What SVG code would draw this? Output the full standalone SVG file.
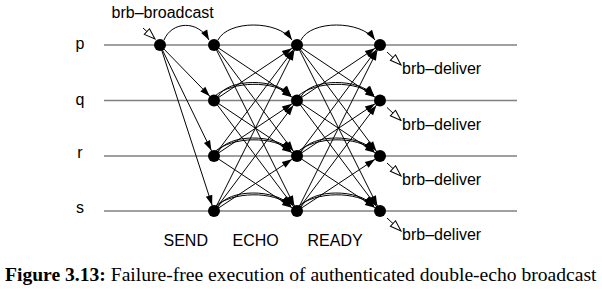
<svg xmlns="http://www.w3.org/2000/svg" width="602" height="297" viewBox="0 0 602 297">
<style>
.proc{stroke:#808080;stroke-width:1.5;fill:none}
.msg{stroke:#000;stroke-width:1;fill:none}
.msg-s{marker-end:url(#ah)}
.msg-c{marker-end:url(#ahc)}
.ev{stroke:#000;stroke-width:1;fill:none;marker-end:url(#oh)}
.dot{fill:#000}
.lbl{font-family:"Liberation Sans",Arial,sans-serif;font-size:16px;fill:#000}
.cap{font-family:"Liberation Serif","Times New Roman",serif;font-size:19.6px;fill:#000}
</style>
<defs>
<marker id="ah" viewBox="-1 -5 18 10" markerWidth="18" markerHeight="10" refX="16" refY="0" orient="auto" markerUnits="userSpaceOnUse"><path d="M0,-3.4 L10,0 L0,3.4 z" fill="#000"/></marker>
<marker id="ahc" viewBox="-1 -5 12 10" markerWidth="12" markerHeight="10" refX="10" refY="0" orient="auto" markerUnits="userSpaceOnUse"><path d="M0,-3.4 L10,0 L0,3.4 z" fill="#000"/></marker>
<marker id="oh" viewBox="-1 -5 13 10" markerWidth="13" markerHeight="10" refX="11" refY="0" orient="auto" markerUnits="userSpaceOnUse"><path d="M0,-3.8 L11,0 L0,3.8 z" fill="#fff" stroke="#000" stroke-width="1"/></marker>
</defs>

<g id="processes">
<line class="proc" x1="104" y1="45" x2="517" y2="45"/>
<line class="proc" x1="104" y1="100.5" x2="517" y2="100.5"/>
<line class="proc" x1="104" y1="156" x2="517" y2="156"/>
<line class="proc" x1="104" y1="211" x2="517" y2="211"/>
<text class="lbl" x="80" y="48.5" text-anchor="middle">p</text>
<text class="lbl" x="80" y="105" text-anchor="middle">q</text>
<text class="lbl" x="80" y="157.5" text-anchor="middle">r</text>
<text class="lbl" x="80" y="212.5" text-anchor="middle">s</text>
</g>

<g id="connectors">
<!-- SEND -->
<path class="msg msg-c" d="M164,40 C172,21 198,20 209,40"/>
<path class="msg msg-s" d="M160,45 L214,100.5"/>
<path class="msg msg-s" d="M160,45 L214,156"/>
<path class="msg msg-s" d="M160,45 L214,211"/>
<!-- ECHO to READY -->
<path class="msg msg-c" d="M218,40 C228,20 278,20 292,40"/>
<path class="msg msg-s" d="M214,45 L297,100.5"/>
<path class="msg msg-s" d="M214,45 L297,156"/>
<path class="msg msg-s" d="M214,45 L297,211"/>
<path class="msg msg-c" d="M218,96.5 C228,78 276,78 291,95.5"/>
<path class="msg msg-c" d="M215,96 C232,81 274,80 291,95.5"/>
<path class="msg msg-s" d="M214,100.5 L297,45"/>
<path class="msg msg-s" d="M214,100.5 L297,156"/>
<path class="msg msg-s" d="M214,100.5 L297,211"/>
<path class="msg msg-c" d="M218,152 C228,133.5 276,133.5 291,151"/>
<path class="msg msg-c" d="M215,151.5 C232,136.5 274,135.5 291,151"/>
<path class="msg msg-s" d="M214,156 L297,45"/>
<path class="msg msg-s" d="M214,156 L297,100.5"/>
<path class="msg msg-s" d="M214,156 L297,211"/>
<path class="msg msg-c" d="M218,207 C228,188.5 276,188.5 291,206"/>
<path class="msg msg-c" d="M215,206.5 C232,191.5 274,190.5 291,206"/>
<path class="msg msg-s" d="M214,211 L297,45"/>
<path class="msg msg-s" d="M214,211 L297,100.5"/>
<path class="msg msg-s" d="M214,211 L297,156"/>
<!-- READY to deliver -->
<path class="msg msg-c" d="M301,40 C311,20 361,20 375,40"/>
<path class="msg msg-s" d="M297,45 L380,100.5"/>
<path class="msg msg-s" d="M297,45 L380,156"/>
<path class="msg msg-s" d="M297,45 L380,211"/>
<path class="msg msg-c" d="M301,96.5 C311,78 359,78 374,95.5"/>
<path class="msg msg-c" d="M298,96 C315,81 357,80 374,95.5"/>
<path class="msg msg-s" d="M297,100.5 L380,45"/>
<path class="msg msg-s" d="M297,100.5 L380,156"/>
<path class="msg msg-s" d="M297,100.5 L380,211"/>
<path class="msg msg-c" d="M301,152 C311,133.5 359,133.5 374,151"/>
<path class="msg msg-c" d="M298,151.5 C315,136.5 357,135.5 374,151"/>
<path class="msg msg-s" d="M297,156 L380,45"/>
<path class="msg msg-s" d="M297,156 L380,100.5"/>
<path class="msg msg-s" d="M297,156 L380,211"/>
<path class="msg msg-c" d="M301,207 C311,188.5 359,188.5 374,206"/>
<path class="msg msg-c" d="M298,206.5 C315,191.5 357,190.5 374,206"/>
<path class="msg msg-s" d="M297,211 L380,45"/>
<path class="msg msg-s" d="M297,211 L380,100.5"/>
<path class="msg msg-s" d="M297,211 L380,156"/>
<!-- events -->
<path class="ev" d="M143,28 L155,39"/>
<path class="ev" d="M387,52 L401,65"/>
<path class="ev" d="M387,107.5 L401,120.5"/>
<path class="ev" d="M387,163 L401,176"/>
<path class="ev" d="M387,218 L401,231"/>
</g>

<g id="send-p"><circle class="dot" cx="160" cy="45" r="6"/></g>
<g id="echo-p"><circle class="dot" cx="214" cy="45" r="6"/></g>
<g id="echo-q"><circle class="dot" cx="214" cy="100.5" r="6"/></g>
<g id="echo-r"><circle class="dot" cx="214" cy="156" r="6"/></g>
<g id="echo-s"><circle class="dot" cx="214" cy="211" r="6"/></g>
<g id="ready-p"><circle class="dot" cx="297" cy="45" r="6"/></g>
<g id="ready-q"><circle class="dot" cx="297" cy="100.5" r="6"/></g>
<g id="ready-r"><circle class="dot" cx="297" cy="156" r="6"/></g>
<g id="ready-s"><circle class="dot" cx="297" cy="211" r="6"/></g>
<g id="deliver-p"><circle class="dot" cx="380" cy="45" r="6"/></g>
<g id="deliver-q"><circle class="dot" cx="380" cy="100.5" r="6"/></g>
<g id="deliver-r"><circle class="dot" cx="380" cy="156" r="6"/></g>
<g id="deliver-s"><circle class="dot" cx="380" cy="211" r="6"/></g>

<g id="labels">
<text class="lbl" x="111.5" y="17.5">brb–broadcast</text>
<text class="lbl" x="402" y="74">brb–deliver</text>
<text class="lbl" x="402" y="129.5">brb–deliver</text>
<text class="lbl" x="402" y="184.5">brb–deliver</text>
<text class="lbl" x="402" y="239.5">brb–deliver</text>
<text class="lbl" x="163.5" y="246">SEND</text>
<text class="lbl" x="232.5" y="246">ECHO</text>
<text class="lbl" x="307.5" y="246">READY</text>
</g>

<text class="cap" x="5" y="281"><tspan font-weight="bold">Figure 3.13:</tspan> Failure-free execution of authenticated double-echo broadcast</text>
</svg>
